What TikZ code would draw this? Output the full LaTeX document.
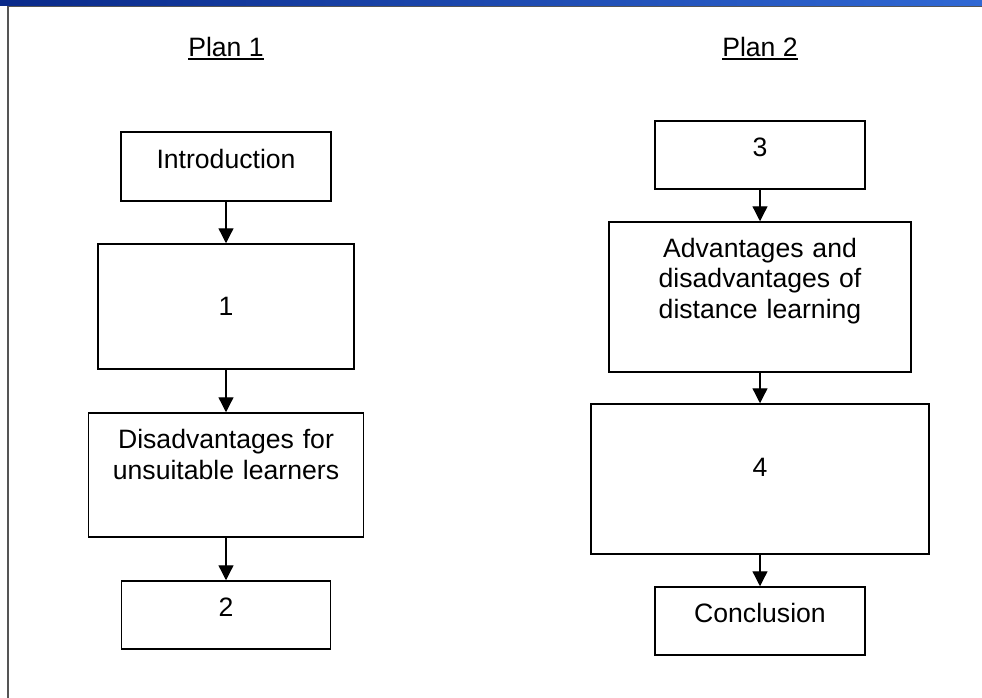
\documentclass[tikz,border=0pt]{standalone}
\usepackage{fontspec}
\setmainfont{Liberation Sans}
\usetikzlibrary{arrows.meta}
\newcommand\ulbox[1]{\setbox0\hbox{#1}\rlap{\rule[-3.5pt]{\wd0}{2pt}}\box0}
\definecolor{barleft}{HTML}{0A2A8A}
\definecolor{barright}{HTML}{3068D4}
\definecolor{framegray}{HTML}{555555}
\begin{document}
\begin{tikzpicture}[x=1pt,y=-1pt,
  box/.style={draw=black, line width=1.5pt, inner sep=0pt},
  lbl/.style={anchor=base, inner sep=0pt, font=\fontsize{26.6}{30.5}\selectfont},
  mlbl/.style={anchor=base, inner sep=0pt, text width=300pt, align=center, font=\fontsize{26.6}{30.5}\selectfont},
  arr/.style={line width=1.3pt, -{Triangle[width=15pt,length=15pt]}}]
\useasboundingbox (0,0) rectangle (982,698);
\fill[white] (0,0) rectangle (982,698);
% top bar and frame
\shade[left color=barleft, right color=barright] (0,0) rectangle (982,6);
\draw[framegray, line width=1pt] (8,6.5) -- (982,6.5);
\draw[framegray, line width=1.2pt] (8,6) -- (8,698);
% titles
\node[lbl] (p1) at (226,57) {\ulbox{Plan 1}};
\node[lbl] (p2) at (760,57) {\ulbox{Plan 2}};
% left column
\node[box, minimum width=210pt, minimum height=69pt] (intro) at (226,166.5) {};
\node[box, minimum width=256pt, minimum height=125pt] (b1) at (226,306.5) {};
\node[box, minimum width=275pt, minimum height=124pt] (dis) at (226,475) {};
\node[box, minimum width=209pt, minimum height=68pt] (b2) at (226,615) {};
\node[lbl] (tintro) at (226,168) {Introduction};
\node[lbl] (tb1) at (226,315) {1};
\node[mlbl] (tdis) at (226,448.5) {Disadvantages for\\unsuitable learners};
\node[lbl] (tb2) at (226,616) {2};
\draw[arr] (intro) -- (b1);
\draw[arr] (b1) -- (dis);
\draw[arr] (dis) -- (b2);
% right column
\node[box, minimum width=210pt, minimum height=68pt] (b3) at (760,155) {};
\node[box, minimum width=302pt, minimum height=150pt] (adv) at (760,297) {};
\node[box, minimum width=338pt, minimum height=150pt] (b4) at (760,479) {};
\node[box, minimum width=210pt, minimum height=68pt] (concl) at (760,621) {};
\node[lbl] (tb3) at (760,157) {3};
\node[mlbl] (tadv) at (760,257) {Advantages and\\disadvantages of\\distance learning};
\node[lbl] (tb4) at (760,476) {4};
\node[lbl] (tconcl) at (760,622) {Conclusion};
\draw[arr] (b3) -- (adv);
\draw[arr] (adv) -- (b4);
\draw[arr] (b4) -- (concl);
\end{tikzpicture}
\end{document}
